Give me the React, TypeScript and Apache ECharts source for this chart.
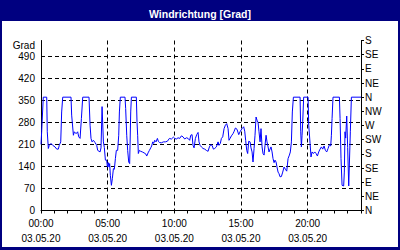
import React, { useEffect, useRef } from "react";
import * as echarts from "echarts";

const title = "Windrichtung [Grad]";
const unitLabel = "Grad";
const dateLabel = "03.05.20";
const compassLabels = ["N", "NE", "E", "SE", "S", "SW", "W", "NW", "N", "NE", "E", "SE", "S"];

const hours = [
  0.0, 0.05, 0.17, 0.43, 0.47, 0.55, 0.62, 0.75, 0.88, 1.05, 1.18, 1.3, 1.37, 1.48, 1.55, 1.63,
  2.25, 2.3, 2.43, 2.5, 2.63, 2.75, 2.83, 2.93, 3.03, 3.13, 3.6, 3.68, 3.75, 3.83, 3.93, 4.05,
  4.18, 4.25, 4.43, 4.5, 4.58, 4.68, 4.75, 4.83, 4.93, 4.98, 5.05, 5.1, 5.15, 5.2, 5.28, 5.35,
  5.43, 5.5, 5.58, 5.65, 5.75, 5.83, 5.88, 5.95, 6.3, 6.35, 6.43, 6.5, 6.58, 6.65, 6.73, 6.78,
  7.15, 7.2, 7.25, 7.3, 7.38, 7.48, 7.6, 7.73, 7.85, 7.93, 8.03, 8.13, 8.23, 8.3, 8.38, 8.45,
  8.53, 8.63, 8.73, 8.8, 8.88, 9.03, 9.18, 9.33, 9.48, 9.63, 9.78, 9.93, 10.03, 10.15, 10.28, 10.4,
  10.53, 10.65, 10.78, 10.9, 11.03, 11.15, 11.23, 11.33, 11.4, 11.48, 11.58, 11.68, 11.78, 11.85, 11.93, 12.03,
  12.15, 12.28, 12.4, 12.53, 12.63, 12.73, 12.83, 12.93, 13.03, 13.15, 13.28, 13.35, 13.45, 13.53, 13.63, 13.73,
  13.83, 13.93, 14.03, 14.1, 14.18, 14.28, 14.4, 14.47, 14.58, 14.7, 14.83, 14.95, 15.08, 15.2, 15.28, 15.35,
  15.43, 15.5, 15.58, 15.68, 15.75, 15.83, 15.9, 15.98, 16.05, 16.13, 16.2, 16.28, 16.35, 16.43, 16.5, 16.58,
  16.65, 16.73, 16.8, 16.88, 16.95, 17.03, 17.1, 17.18, 17.25, 17.33, 17.4, 17.48, 17.55, 17.63, 17.7, 17.78,
  17.85, 17.93, 18.03, 18.13, 18.23, 18.33, 18.43, 18.53, 18.63, 18.7, 18.78, 18.85, 18.93, 19.43, 19.48, 19.53,
  19.58, 19.63, 19.7, 20.03, 20.08, 20.18, 20.25, 20.33, 20.43, 20.53, 20.63, 20.73, 20.83, 20.93, 21.03, 21.13,
  21.23, 21.33, 21.43, 21.53, 21.63, 21.73, 21.78, 21.83, 21.9, 22.38, 22.43, 22.5, 22.58, 22.7, 22.75, 22.8,
  22.85, 22.93, 23.0, 23.08, 23.13, 23.2, 23.28, 24.0,
];

const degrees = [
  210, 250, 360, 360, 250, 197, 207, 213, 207, 202, 195, 195, 207, 218, 313, 360,
  360, 303, 239, 250, 244, 250, 234, 229, 292, 360, 360, 271, 229, 218, 223, 216,
  207, 191, 186, 199, 330, 218, 200, 160, 160, 138, 152, 138, 149, 112, 80, 101,
  133, 131, 165, 191, 191, 239, 313, 360, 360, 324, 239, 191, 154, 149, 313, 360,
  360, 282, 239, 181, 191, 188, 186, 183, 180, 173, 183, 191, 199, 205, 218, 213,
  223, 218, 229, 220, 216, 215, 218, 218, 220, 229, 227, 233, 229, 227, 231, 229,
  237, 234, 227, 231, 229, 223, 239, 241, 207, 199, 229, 241, 248, 218, 207, 202,
  197, 195, 191, 188, 202, 209, 207, 195, 197, 202, 218, 207, 213, 229, 234, 260,
  271, 276, 260, 223, 229, 237, 244, 250, 262, 258, 241, 252, 260, 266, 252, 223,
  191, 181, 220, 218, 199, 186, 154, 197, 239, 297, 287, 279, 250, 218, 260, 202,
  181, 176, 207, 239, 218, 202, 186, 195, 202, 186, 165, 152, 160, 154, 138, 122,
  117, 107, 108, 122, 138, 131, 125, 165, 176, 186, 218, 313, 360, 360, 250, 202,
  239, 282, 360, 360, 271, 213, 170, 186, 181, 186, 181, 173, 186, 195, 202, 195,
  205, 191, 186, 197, 209, 205, 239, 292, 360, 360, 292, 165, 80, 78, 122, 250,
  230, 300, 200, 78, 78, 250, 360, 360,
];

const FONT = "'Liberation Sans', Arial, sans-serif";

export default function App() {
  const ref = useRef<HTMLDivElement>(null);
  useEffect(() => {
    if (!ref.current) return;
    const chart = echarts.init(ref.current, undefined, { renderer: "svg" });
    const data = hours.map((h, i) => [h, degrees[i]]);
    const gridDash = { color: "#000", width: 1, type: [4, 3] as number[] };
    chart.setOption({
      animation: false,
      backgroundColor: "#000080",
      textStyle: { fontFamily: FONT },
      title: {
        text: title,
        left: "center",
        top: 3,
        textStyle: { color: "#fff", fontSize: 10.5, fontWeight: "bold", fontFamily: FONT },
      },
      graphic: [
        { type: "rect", z: -10, shape: { x: 2, y: 21, width: 396, height: 226 }, style: { fill: "#fff" }, silent: true },
        {
          type: "text",
          x: 35,
          y: 45,
          z: 10,
          style: { text: unitLabel, fill: "#000", font: `10px ${FONT}`, align: "right", verticalAlign: "middle" },
        },
      ],
      grid: { left: 41, right: 39, top: 40.5, height: 170, containLabel: false },
      xAxis: [
        {
          type: "value",
          min: 0,
          max: 24,
          interval: 5,
          position: "bottom",
          axisLine: { show: true, onZero: false, lineStyle: { color: "#000", width: 1 } },
          axisTick: { show: false },
          axisLabel: {
            color: "#000",
            fontSize: 10,
            fontFamily: FONT,
            lineHeight: 15,
            margin: 5,
            showMaxLabel: false,
            formatter: (v: number) => `${String(v).padStart(2, "0")}:00\n${dateLabel}`,
          },
          splitLine: { show: true, showMinLine: false, showMaxLine: false, lineStyle: gridDash },
        },
        {
          type: "value",
          min: 0,
          max: 24,
          interval: 1,
          position: "bottom",
          axisLine: { show: false, onZero: false },
          axisTick: { show: true, length: 3, lineStyle: { color: "#000" } },
          axisLabel: { show: false },
          splitLine: { show: false },
        },
      ],
      yAxis: [
        {
          type: "value",
          min: 0,
          max: 540,
          interval: 70,
          position: "left",
          axisLine: { show: true, onZero: false, lineStyle: { color: "#000", width: 1 } },
          axisTick: { show: false },
          axisLabel: { color: "#000", fontSize: 10, fontFamily: FONT, margin: 6, showMaxLabel: false },
          splitLine: { show: true, showMinLine: false, showMaxLine: false, lineStyle: gridDash },
        },
        {
          type: "value",
          min: 0,
          max: 540,
          interval: 45,
          position: "right",
          axisLine: { show: true, onZero: false, lineStyle: { color: "#000", width: 1 } },
          axisTick: { show: true, length: 3, inside: false, lineStyle: { color: "#000" } },
          axisLabel: {
            color: "#000",
            fontSize: 10,
            fontFamily: FONT,
            margin: 4,
            formatter: (v: number) => compassLabels[Math.round(v / 45)] ?? "",
          },
          splitLine: { show: false },
        },
      ],
      series: [
        {
          type: "line",
          data,
          xAxisIndex: 0,
          yAxisIndex: 0,
          showSymbol: false,
          symbol: "none",
          lineStyle: { color: "#0000ff", width: 1 },
          clip: true,
        },
      ],
    });
    return () => chart.dispose();
  }, []);
  return (
    <div
      ref={ref}
      style={{ position: "fixed", left: 0, top: 0, width: 400, height: 250 }}
    />
  );
}
